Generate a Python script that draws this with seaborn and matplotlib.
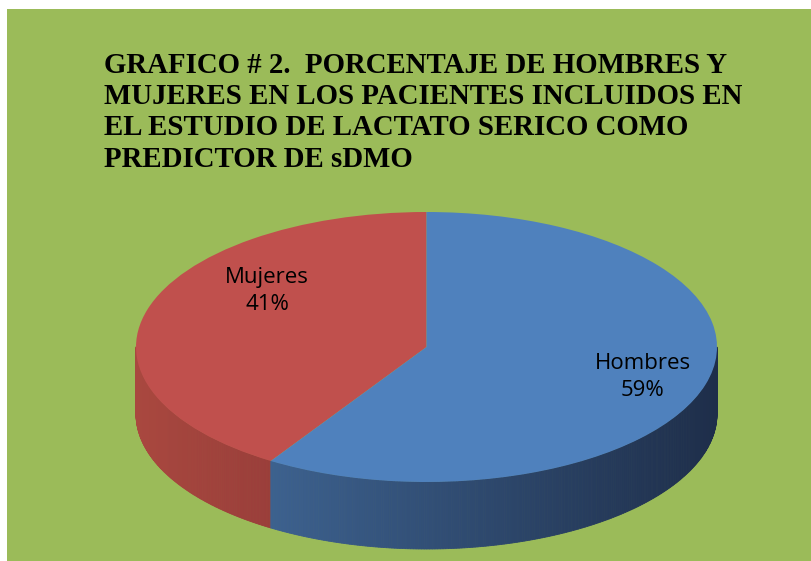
import numpy as np
import matplotlib
matplotlib.use("Agg")
import matplotlib.pyplot as plt
import seaborn as sns
from matplotlib.patches import Rectangle, Polygon
from matplotlib.colors import to_rgb

sns.set_theme(style="white")

# ---- data ----
categories = ["Mujeres", "Hombres"]
values = [41, 59]
pct_labels = ["41%", "59%"]
title_lines = [
    "GRAFICO # 2.  PORCENTAJE DE HOMBRES Y",
    "MUJERES EN LOS PACIENTES INCLUIDOS EN",
    "EL ESTUDIO DE LACTATO SERICO COMO",
    "PREDICTOR DE sDMO",
]

top_colors = ["#C0504D", "#4F81BD"]
side_light = ["#A9483F", "#3F6594"]
side_dark = ["#933938", "#1E2E4A"]
bg = "#9BBB59"

W, H = 812, 561
fig = plt.figure(figsize=(W / 100, H / 100), dpi=100)
fig.patch.set_facecolor("white")
fig.add_artist(Rectangle((7 / W, 0), 1 - 7 / W, (H - 9) / H,
                         transform=fig.transFigure, facecolor=bg,
                         edgecolor="none", zorder=0))

ax = fig.add_axes([0, 0, 1, 1])
ax.set_facecolor("none")
ax.axis("off")

# pixel mapping of the pie
cx_px, cy_px, a_px, b_px, depth_px = 426.5, 347, 290.5, 135, 67
depth = depth_px / b_px

# side walls (front half only)
frac = np.array(values, float) / np.sum(values)
start = 90.0
bounds = start + 360 * np.concatenate([[0], np.cumsum(frac)])
for i in range(len(values)):
    th0, th1 = bounds[i], bounds[i + 1]
    ths = np.linspace(th0, th1, 400)
    c_l, c_d = np.array(to_rgb(side_light[i])), np.array(to_rgb(side_dark[i]))
    for j in range(len(ths) - 1):
        t0, t1 = ths[j], ths[j + 1]
        tm = np.deg2rad((t0 + t1) / 2)
        if np.sin(tm) > 0:
            continue
        r0, r1 = np.deg2rad(t0), np.deg2rad(t1)
        x0, x1 = np.cos(r0), np.cos(r1)
        y0, y1 = np.sin(r0), np.sin(r1)
        if i == 0:
            s = np.clip((np.cos(tm) + 1) / 0.7, 0, 1)
        else:
            s = np.clip((np.cos(tm) + 0.65) / 1.65, 0, 1)
        col = c_l * (1 - s) + c_d * s
        ax.add_patch(Polygon([(x0, y0), (x1, y1), (x1, y1 - depth), (x0, y0 - depth)],
                             closed=True, facecolor=col, edgecolor=col,
                             linewidth=0.6, zorder=1))

wedges, _ = ax.pie(values, colors=top_colors, startangle=start, counterclock=True,
                   radius=1, center=(0, 0),
                   wedgeprops=dict(linewidth=0, zorder=2))
for w in wedges:
    w.set_zorder(2)

ax.set_aspect("auto")
ax.set_xlim((0 - cx_px) / a_px, (W - cx_px) / a_px)
ax.set_ylim((cy_px - H) / b_px, cy_px / b_px)

# labels
label_pos_px = [(267, 291), (643, 377)]
for (px, py), cat, pc in zip(label_pos_px, categories, pct_labels):
    ax.text((px - cx_px) / a_px, (cy_px - py) / b_px, f"{cat}\n{pc}",
            ha="center", va="center", fontsize=16, family="Open Sans",
            color="black", linespacing=1.4, zorder=5)

# title
baselines = [73, 104, 135, 167]
for line, yb in zip(title_lines, baselines):
    fig.text(104 / W, 1 - yb / H, line, ha="left", va="baseline",
             fontsize=20.8, fontweight="bold", family="Liberation Serif",
             color="black")

fig.savefig("out.png", dpi=100, facecolor=fig.get_facecolor())
